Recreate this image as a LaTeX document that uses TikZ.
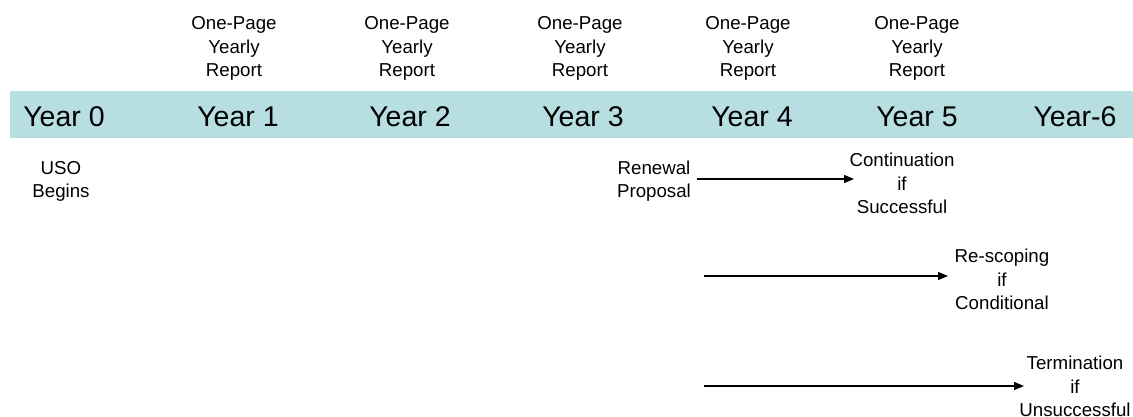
\documentclass[tikz,border=0pt]{standalone}
\usepackage{fontspec}
\setmainfont{Liberation Sans}
\usetikzlibrary{arrows.meta}
\definecolor{band}{HTML}{B7DEE1}
\tikzset{
  small/.style={align=center, inner sep=0pt, font=\fontsize{18.7pt}{23.3pt}\selectfont},
  yearlbl/.style={inner sep=0pt, font=\fontsize{28.5pt}{34pt}\selectfont, anchor=base},
  arr/.style={line width=1.3pt, -{Triangle[length=10pt,width=8pt]}}
}
\begin{document}
\begin{tikzpicture}[x=1pt,y=-1pt]
\useasboundingbox (0,0) rectangle (1133,416);
\fill[band] (10,91) rectangle (1133,138);
\node[yearlbl] (y0) at (64,126) {Year 0};
\node[yearlbl] (y1) at (238,126) {Year 1};
\node[yearlbl] (y2) at (410,126) {Year 2};
\node[yearlbl] (y3) at (583,126) {Year 3};
\node[yearlbl] (y4) at (752,126) {Year 4};
\node[yearlbl] (y5) at (917,126) {Year 5};
\node[yearlbl] (y6) at (1075,126) {Year-6};
\node[small] (r1) at (234,48.5) {One-Page\\Yearly\\Report};
\node[small] (r2) at (407,48.5) {One-Page\\Yearly\\Report};
\node[small] (r3) at (580,48.5) {One-Page\\Yearly\\Report};
\node[small] (r4) at (748,48.5) {One-Page\\Yearly\\Report};
\node[small] (r5) at (917,48.5) {One-Page\\Yearly\\Report};
\node[small] (uso) at (61,181.5) {USO\\Begins};
\node[small] (ren) at (654,181.5) {Renewal\\Proposal};
\node[small] (cont) at (902,183.5) {Continuation\\if\\Successful};
\node[small] (resc) at (1002,279.5) {Re-scoping\\if\\Conditional};
\node[small] (term) at (1075,386.5) {Termination\\if\\Unsuccessful};
\coordinate (s1) at (697,179);
\coordinate (e1) at (854,179);
\coordinate (s2) at (704,276);
\coordinate (e2) at (948,276);
\coordinate (s3) at (704,386);
\coordinate (e3) at (1024,386);
\draw[arr] (s1) -- (e1);
\draw[arr] (s2) -- (e2);
\draw[arr] (s3) -- (e3);
\end{tikzpicture}
\end{document}
